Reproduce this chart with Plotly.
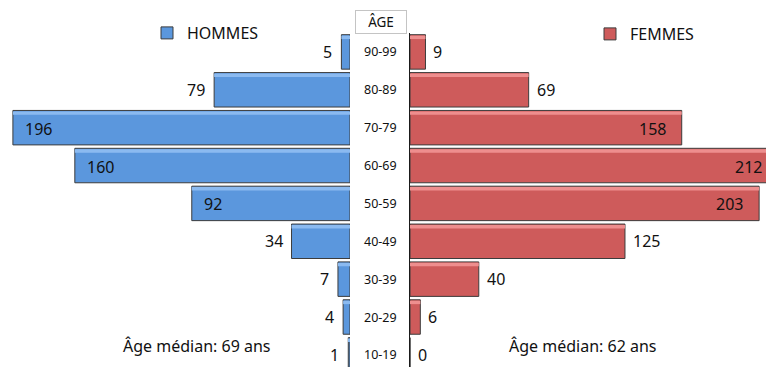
import plotly.graph_objects as go

# Population by age group
ages = ["90-99", "80-89", "70-79", "60-69", "50-59", "40-49", "30-39", "20-29", "10-19"]
hommes = [5, 79, 196, 160, 92, 34, 7, 4, 1]
femmes = [9, 69, 158, 212, 203, 125, 40, 6, 0]
median_hommes = 69
median_femmes = 62

# rows whose value label sits inside the bar
inside_rows = {"70-79", "60-69", "50-59"}

W, H = 766, 367
BLUE, BLUE_HI = "#5B97DD", "#8BBAF0"
RED, RED_HI = "#CE5B5B", "#EE8E8E"
EDGE = "#3C3C3C"
FONT = "Noto Sans, Open Sans, DejaVu Sans, sans-serif"

XMAX_H = 203.5   # left panel, reversed
XMAX_F = 207.0   # right panel
Y_RANGE = [-0.32, 8.5]
Y_DOMAIN = [0, 334 / H]

fig = go.Figure()

# Men (left panel)
fig.add_trace(go.Bar(
    x=hommes, y=ages, orientation="h", name="HOMMES",
    xaxis="x", yaxis="y", width=0.91,
    marker=dict(color=BLUE, line=dict(color=EDGE, width=1)),
    legend="legend", hoverinfo="x+y",
))
fig.add_trace(go.Bar(
    x=hommes, y=ages, orientation="h", showlegend=False,
    xaxis="x", yaxis="y", width=0.09, offset=0.34,
    marker=dict(color=BLUE_HI, line=dict(width=0)), hoverinfo="skip",
))

# Women (right panel)
fig.add_trace(go.Bar(
    x=femmes, y=ages, orientation="h", name="FEMMES",
    xaxis="x2", yaxis="y2", width=0.91,
    marker=dict(color=RED, line=dict(color=EDGE, width=1)),
    legend="legend2", hoverinfo="x+y",
))
fig.add_trace(go.Bar(
    x=femmes, y=ages, orientation="h", showlegend=False,
    xaxis="x2", yaxis="y2", width=0.09, offset=0.34,
    marker=dict(color=RED_HI, line=dict(width=0)), hoverinfo="skip",
))

annotations = []
lab_font = dict(family=FONT, size=16, color="#111111")

# value labels, men
for a, v in zip(ages, hommes):
    if a in inside_rows:
        annotations.append(dict(x=v, y=a, xref="x", yref="y", text=str(v),
                                xanchor="left", xshift=10, yshift=-1,
                                showarrow=False, font=lab_font))
    else:
        annotations.append(dict(x=v, y=a, xref="x", yref="y", text=str(v),
                                xanchor="right", xshift=-7, yshift=0,
                                showarrow=False, font=lab_font))

# value labels, women
for a, v in zip(ages, femmes):
    if a in inside_rows:
        xv = min(v, XMAX_F)
        annotations.append(dict(x=xv, y=a, xref="x2", yref="y2", text=str(v),
                                xanchor="right", xshift=-14 if v <= XMAX_F else -2,
                                yshift=-1, showarrow=False, font=lab_font))
    else:
        annotations.append(dict(x=v, y=a, xref="x2", yref="y2", text=str(v),
                                xanchor="left", xshift=6, yshift=0,
                                showarrow=False, font=lab_font))

# age group labels in the centre column
for a in ages:
    annotations.append(dict(x=380 / W, y=a, xref="paper", yref="y", text=a,
                            xanchor="center", yshift=0, showarrow=False,
                            font=dict(family=FONT, size=12.5, color="#111111")))

# column header
annotations.append(dict(x=381 / W, y=1 - 21.5 / H, xref="paper", yref="paper",
                        text="ÂGE", showarrow=False, xanchor="center", yanchor="middle",
                        width=48, height=20, bgcolor="white",
                        bordercolor="#C4C4C4", borderwidth=1,
                        font=dict(family=FONT, size=13.5, color="#111111")))

# medians
annotations.append(dict(x=197 / W, y=1 - 346 / H, xref="paper", yref="paper",
                        text=f"Âge médian: {median_hommes} ans", showarrow=False,
                        xanchor="center", yanchor="middle", font=lab_font))
annotations.append(dict(x=583 / W, y=1 - 346 / H, xref="paper", yref="paper",
                        text=f"Âge médian: {median_femmes} ans", showarrow=False,
                        xanchor="center", yanchor="middle", font=lab_font))

hidden_x = dict(visible=False, showgrid=False, zeroline=False, fixedrange=True)

fig.update_layout(
    width=W, height=H,
    margin=dict(l=0, r=0, t=0, b=0),
    paper_bgcolor="white", plot_bgcolor="white",
    barmode="overlay",
    font=dict(family=FONT, color="#111111"),
    xaxis=dict(hidden_x, domain=[0, 350 / W], range=[XMAX_H, 0], anchor="y"),
    xaxis2=dict(hidden_x, domain=[410 / W, 1], range=[0, XMAX_F], anchor="y2"),
    yaxis=dict(domain=Y_DOMAIN, range=Y_RANGE, type="category",
               categoryorder="array", categoryarray=ages[::-1],
               showticklabels=False, showgrid=False, zeroline=False,
               showline=False, anchor="x"),
    yaxis2=dict(domain=Y_DOMAIN, matches="y", type="category",
                categoryorder="array", categoryarray=ages[::-1],
                showticklabels=False, showgrid=False, zeroline=False,
                showline=True, linecolor="#1A1A1A", linewidth=1.2,
                anchor="x2", side="left"),
    legend=dict(x=147 / W, y=1 - 33 / H, xanchor="left", yanchor="middle",
                bgcolor="rgba(0,0,0,0)", font=dict(family=FONT, size=16),
                itemwidth=30),
    legend2=dict(x=590 / W, y=1 - 34 / H, xanchor="left", yanchor="middle",
                 bgcolor="rgba(0,0,0,0)", font=dict(family=FONT, size=16),
                 itemwidth=30),
    annotations=annotations,
    showlegend=True,
)

fig.write_html("out.html")
